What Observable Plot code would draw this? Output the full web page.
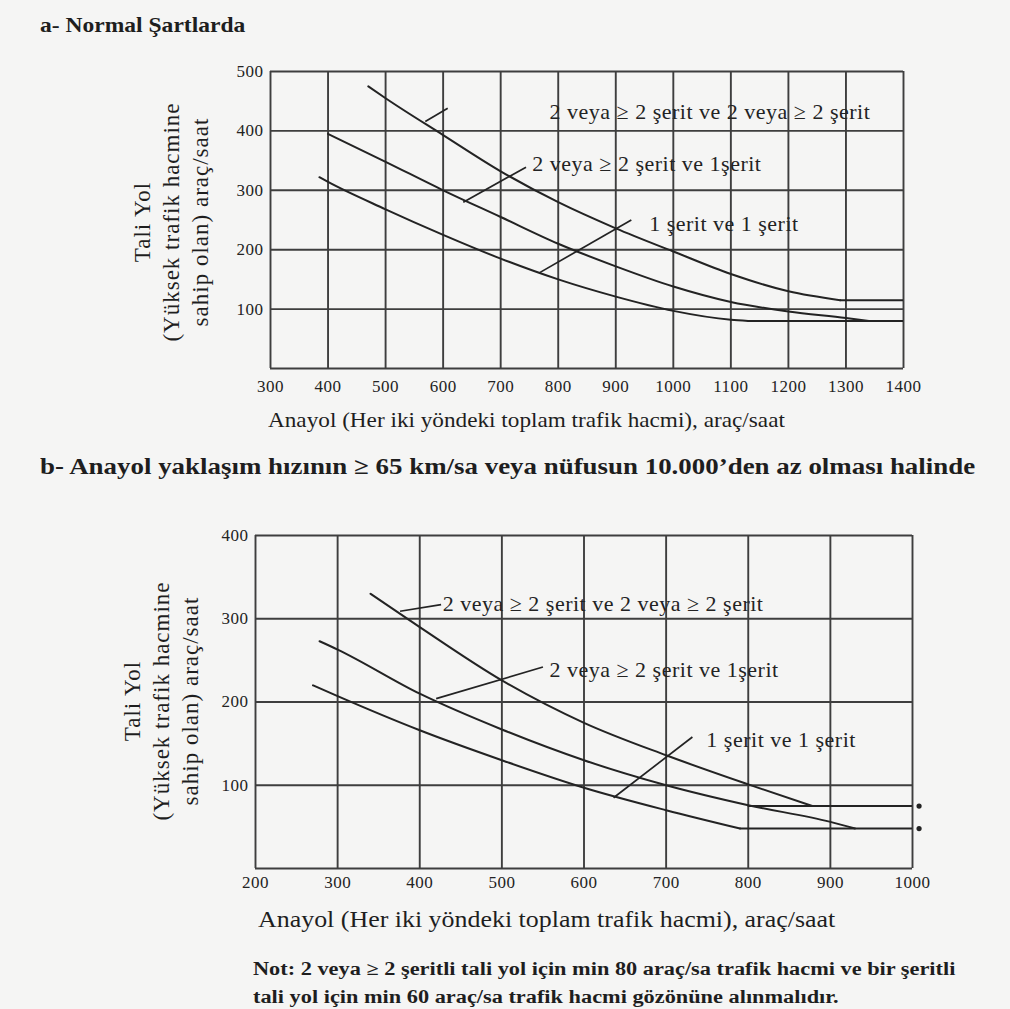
<!DOCTYPE html>
<html>
<head>
<meta charset="utf-8">
<script src="https://cdn.jsdelivr.net/npm/d3@7"></script>
<script src="https://cdn.jsdelivr.net/npm/@observablehq/plot@0.6"></script>
<style>
  html, body { margin:0; padding:0; }
  body { width:1010px; height:1009px; position:relative; overflow:hidden; background:#f5f5f4; color:#1e1e1e; font-family:"Liberation Serif", serif; }
  .t { position:absolute; white-space:nowrap; line-height:1; transform-origin:0 50%; }
  .bold { font-weight:bold; }
  .ylab { position:absolute; transform:translate(-50%,-50%) rotate(-90deg); text-align:center; white-space:nowrap; font-size:23px; line-height:29px; letter-spacing:1px; }
  .plot { position:absolute; left:0; }
  .plot svg text { letter-spacing:0.5px; }
</style>
</head>
<body>
<div class="t bold" style="left:40px;top:14px;font-size:22px;transform:scaleX(1.07);">a- Normal Şartlarda</div>
<div class="ylab" style="left:171px;top:222px;">Tali Yol<br>(Yüksek trafik hacmine<br>sahip olan) araç/saat</div>
<div id="chartA" class="plot" style="top:0px;"></div>
<div class="t" style="left:268px;top:409px;font-size:22px;transform:scaleX(1.055);">Anayol (Her iki yöndeki toplam trafik hacmi), araç/saat</div>
<div class="t bold" style="left:40px;top:455px;font-size:23px;transform:scaleX(1.17);">b- Anayol yaklaşım hızının ≥ 65 km/sa veya nüfusun 10.000’den az olması halinde</div>
<div class="ylab" style="left:161px;top:701px;">Tali Yol<br>(Yüksek trafik hacmine<br>sahip olan) araç/saat</div>
<div id="chartB" class="plot" style="top:500px;"></div>
<div class="t" style="left:258px;top:908px;font-size:23px;transform:scaleX(1.127);">Anayol (Her iki yöndeki toplam trafik hacmi), araç/saat</div>
<div class="t bold" style="left:253px;top:955px;font-size:18px;line-height:28px;transform:scaleX(1.24);transform-origin:0 0;">Not: 2 veya ≥ 2 şeritli tali yol için min 80 araç/sa trafik hacmi ve bir şeritli<br>tali yol için min 60 araç/sa trafik hacmi gözönüne alınmalıdır.</div>
<script>
// ---------- Chart a: Normal Şartlarda ----------
const aTicksX = [300, 400, 500, 600, 700, 800, 900, 1000, 1100, 1200, 1300, 1400];
const aTicksY = [100, 200, 300, 400, 500];
const aGridY = [0, 100, 200, 300, 400, 500];

// curved parts (each ends where it meets its minimum line)
const aTopX = [470, 500, 600, 700, 800, 900, 1000, 1100, 1200, 1290];
const aTopY = [475, 455, 393, 332, 280, 236, 197, 159, 130, 115];
const aMidX = [400, 500, 600, 700, 800, 900, 1000, 1100, 1200, 1300, 1340];
const aMidY = [395, 348, 300, 255, 210, 172, 138, 112, 96, 85, 80];
const aBotX = [385, 400, 500, 600, 700, 800, 900, 1000, 1100, 1130];
const aBotY = [322, 314, 268, 225, 185, 150, 121, 97, 82, 80];
// minimum (flat) lines
const aFlatY = [115, 80];
const aFlatX1 = [1290, 1130];
const aFlatX2 = [1400, 1400];

const aLabels = ["2 veya ≥ 2 şerit ve 2 veya ≥ 2 şerit", "2 veya ≥ 2 şerit ve 1şerit", "1 şerit ve 1 şerit"];
const aLabelX = [785, 755, 958];
const aLabelY = [432, 345, 243];
const aLeadX1 = [569, 635, 767];
const aLeadY1 = [416, 280, 161];
const aLeadX2 = [608, 744, 927];
const aLeadY2 = [438, 339, 250];

// ---------- Chart b: Anayol yaklaşım hızı ≥ 65 km/sa ----------
const bTicksX = [200, 300, 400, 500, 600, 700, 800, 900, 1000];
const bTicksY = [100, 200, 300, 400];
const bGridY = [0, 100, 200, 300, 400];

const bTopX = [340, 400, 500, 600, 700, 800, 878];
const bTopY = [330, 290, 226, 175, 136, 101, 75];
const bMidX = [278, 300, 400, 500, 600, 700, 800, 900, 930];
const bMidY = [273, 263, 210, 167, 130, 100, 76, 56, 48];
const bBotX = [270, 300, 400, 500, 600, 700, 790];
const bBotY = [220, 207, 166, 130, 97, 70, 48];
const bFlatY = [75, 48];
const bFlatX1 = [800, 790];
const bFlatX2 = [1000, 1000];
const bDotX = [1008, 1008];
const bDotY = [75, 48];

const bLabels = ["2 veya ≥ 2 şerit ve 2 veya ≥ 2 şerit", "2 veya ≥ 2 şerit ve 1şerit", "1 şerit ve 1 şerit"];
const bLabelX = [428, 558, 749];
const bLabelY = [318, 239, 154];
const bLeadX1 = [376, 420, 636];
const bLeadY1 = [309, 204, 85];
const bLeadX2 = [426, 550, 732];
const bLeadY2 = [317, 242, 158];

const INK = "#232323";
const GRID = "#3e3e3e";

function series(xs, ys) { return xs.map((x, i) => ({x, y: ys[i]})); }
function table(keys, arrays) {
  return arrays[0].map((_, i) => Object.fromEntries(keys.map((k, j) => [k, arrays[j][i]])));
}

function makeChart(cfg) {
  const curves = cfg.curves.map(([xs, ys]) => series(xs, ys));
  const flats = table(["y", "x1", "x2"], [cfg.flatY, cfg.flatX1, cfg.flatX2]);
  const labels = table(["text", "x", "y"], [cfg.labels, cfg.labelX, cfg.labelY]);
  const leads = table(["x1", "y1", "x2", "y2"], [cfg.leadX1, cfg.leadY1, cfg.leadX2, cfg.leadY2]);
  const marks = [
    Plot.ruleX(cfg.ticksX, {stroke: GRID, strokeWidth: 1.9}),
    Plot.ruleY(cfg.gridY, {stroke: GRID, strokeWidth: 1.9}),
    ...curves.map(d => Plot.line(d, {x: "x", y: "y", curve: "monotone-x", stroke: INK, strokeWidth: 2})),
    Plot.ruleY(flats, {y: "y", x1: "x1", x2: "x2", stroke: INK, strokeWidth: 2}),
    Plot.link(leads, {x1: "x1", y1: "y1", x2: "x2", y2: "y2", stroke: INK, strokeWidth: 1.7}),
    Plot.text(labels, {x: "x", y: "y", text: "text", textAnchor: "start", fontSize: 22, fill: INK}),
    Plot.axisX(cfg.ticksX, {tickSize: 0, tickPadding: cfg.padX, fontSize: 17, fill: INK, tickFormat: d => String(d)}),
    Plot.axisY(cfg.ticksY, {tickSize: 0, tickPadding: 7, fontSize: 17, fill: INK, tickFormat: d => String(d)})
  ];
  if (cfg.dotX) marks.push(Plot.dot(series(cfg.dotX, cfg.dotY), {x: "x", y: "y", r: 2.6, fill: INK, stroke: "none"}));
  return Plot.plot({
    width: 1010,
    height: 400,
    marginLeft: cfg.ml, marginRight: cfg.mr, marginTop: cfg.mt, marginBottom: cfg.mb,
    x: {domain: cfg.xDomain, label: null},
    y: {domain: cfg.yDomain, label: null},
    style: {fontFamily: "Liberation Serif, serif", fontSize: "17px", background: "transparent", color: INK, overflow: "visible"},
    marks
  });
}

document.getElementById("chartA").append(makeChart({
  ticksX: aTicksX, ticksY: aTicksY, gridY: aGridY,
  curves: [[aTopX, aTopY], [aMidX, aMidY], [aBotX, aBotY]],
  flatY: aFlatY, flatX1: aFlatX1, flatX2: aFlatX2,
  labels: aLabels, labelX: aLabelX, labelY: aLabelY,
  leadX1: aLeadX1, leadY1: aLeadY1, leadX2: aLeadX2, leadY2: aLeadY2,
  xDomain: [300, 1400], yDomain: [0, 500],
  ml: 270, mr: 107, mt: 71, mb: 32, padX: 11
}));

document.getElementById("chartB").append(makeChart({
  ticksX: bTicksX, ticksY: bTicksY, gridY: bGridY,
  curves: [[bTopX, bTopY], [bMidX, bMidY], [bBotX, bBotY]],
  flatY: bFlatY, flatX1: bFlatX1, flatX2: bFlatX2,
  labels: bLabels, labelX: bLabelX, labelY: bLabelY,
  leadX1: bLeadX1, leadY1: bLeadY1, leadX2: bLeadX2, leadY2: bLeadY2,
  dotX: bDotX, dotY: bDotY,
  xDomain: [200, 1000], yDomain: [0, 400],
  ml: 255, mr: 98, mt: 35, mb: 32, padX: 7
}));
</script>
</body>
</html>
